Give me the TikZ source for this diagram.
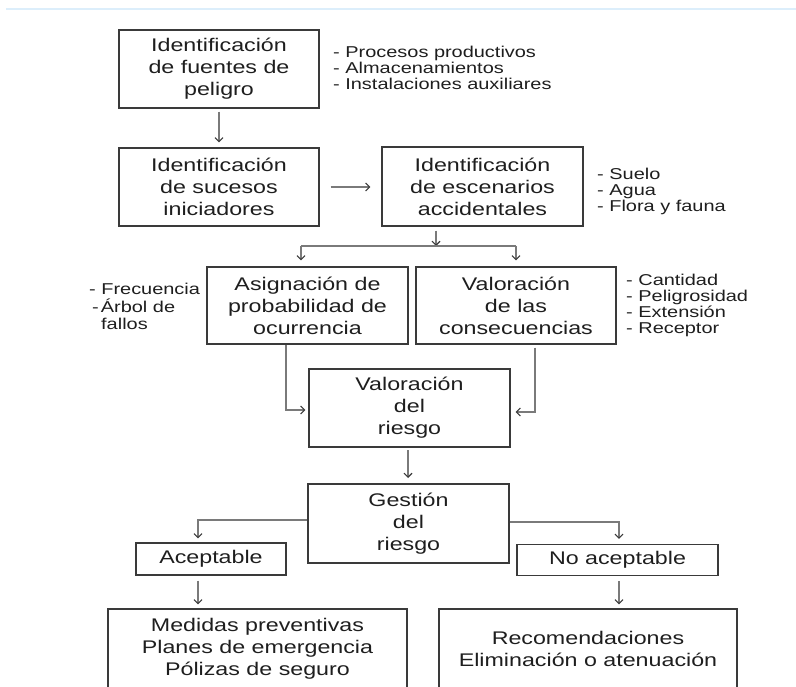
\documentclass[tikz,border=0pt]{standalone}
\usepackage{fontspec}
\setmainfont{Liberation Sans}[FakeStretch=1.27]
\usetikzlibrary{arrows.meta}
\definecolor{inkgray}{HTML}{1E1E1E}
\definecolor{framegray}{HTML}{3A3A3A}
\definecolor{linkgray}{HTML}{7A7A7A}
\definecolor{rulesky}{HTML}{DCEEFB}

\begin{document}
\begin{tikzpicture}[x=1pt,y=-1pt,
  stage/.style={draw=framegray, line width=1.2pt, rectangle,
    minimum width=200pt, minimum height=78pt, inner sep=0pt,
    align=center, text=inkgray, font=\fontsize{18.3}{22}\selectfont},
  note/.style={anchor=north west, inner sep=0pt, align=left,
    text=inkgray, font=\fontsize{15.7}{16}\selectfont},
  wire/.style={draw=linkgray, line width=1.1pt},
  link/.style={wire, -{Straight Barb[length=4pt,width=8pt,color=framegray]}}
]
\useasboundingbox (0,0) rectangle (796,687);
\clip (0,0) rectangle (796,687);

% header rule
\draw[rulesky, line width=2pt] (6,9) -- (796,9);

% process boxes
\node[stage] (fuentes) at (219,69) {Identificación\\de fuentes de\\peligro};
\node[stage] (sucesos) at (219,187) {Identificación\\de sucesos\\iniciadores};
\node[stage, minimum width=201pt, minimum height=79pt] (escen) at (482.5,186.5)
  {Identificación\\de escenarios\\accidentales};
\node[stage, minimum width=201pt, minimum height=77pt] (asign) at (307.5,305.5)
  {Asignación de\\probabilidad de\\ocurrencia};
\node[stage, minimum height=77pt] (conse) at (516,305.5)
  {Valoración\\de las\\consecuencias};
\node[stage, minimum width=201pt] (riesgo) at (409.5,408) {Valoración\\del\\riesgo};
\node[stage, minimum width=201pt, minimum height=79pt] (gestion) at (408.5,523.5)
  {Gestión\\del\\riesgo};
\node[stage, minimum width=150pt, minimum height=32pt] (acept) at (211,559) {Aceptable};
\node[stage, minimum width=201pt, minimum height=31pt] (noacept) at (617.5,560) {No aceptable};
\node[stage, minimum width=299pt, minimum height=80pt] (medidas) at (257.5,649)
  {Medidas preventivas\\Planes de emergencia\\Pólizas de seguro};
\node[stage, minimum width=298pt, minimum height=80pt] (recom) at (588,649)
  {Recomendaciones\\Eliminación o atenuación};

% side notes
\node[note] (notaFuentes) at (333,46)
  {- Procesos productivos\\- Almacenamientos\\- Instalaciones auxiliares};
\node[note] (notaEscen) at (597,168) {- Suelo\\- Agua\\- Flora y fauna};
\node[note] (notaAsign) at (89,283)
  {- Frecuencia\\[1.5pt]\hspace{3pt}-\hspace{2pt}Árbol de\\[1.5pt]\hspace{12pt}fallos};
\node[note] (notaConse) at (626,274)
  {- Cantidad\\- Peligrosidad\\- Extensión\\- Receptor};

% connectors
\draw[link, shorten <=3pt, shorten >=5pt] (fuentes.south) -- (sucesos.north);
\draw[link] ([xshift=11pt]sucesos.east) -- ([xshift=-11pt]sucesos.east -| escen.west);

\coordinate (fork) at (436,246);
\coordinate (forkL) at (301,246);
\coordinate (forkR) at (516,246);
\draw[link, shorten <=4pt] (fork |- escen.south) -- (fork);
\draw[wire] (forkL) -- (forkR);
\draw[link, shorten >=6pt] (forkL) -- (forkL |- asign.north);
\draw[link, shorten >=6pt] (forkR) -- (forkR |- conse.north);

\coordinate (joinL) at (286,410);
\coordinate (joinR) at (535,412);
\draw[link, shorten >=3pt] (joinL |- asign.south) -- (joinL) -- (joinL -| riesgo.west);
\draw[link, shorten <=3pt, shorten >=5pt] (joinR |- conse.south) -- (joinR) -- (joinR -| riesgo.east);

\draw[link, shorten <=3pt, shorten >=6pt] (408,447) -- (408,484);

\coordinate (splitL) at (198,520);
\coordinate (splitR) at (619,522);
\draw[link, shorten >=4pt] (splitL -| gestion.west) -- (splitL) -- (splitL |- acept.north);
\draw[link, shorten >=5pt] (splitR -| gestion.east) -- (splitR) -- (splitR |- noacept.north);
\draw[link, shorten <=5pt, shorten >=4pt] (splitL |- acept.south) -- (splitL |- medidas.north);
\draw[link, shorten <=5pt, shorten >=4pt] (splitR |- noacept.south) -- (splitR |- recom.north);
\end{tikzpicture}
\end{document}
